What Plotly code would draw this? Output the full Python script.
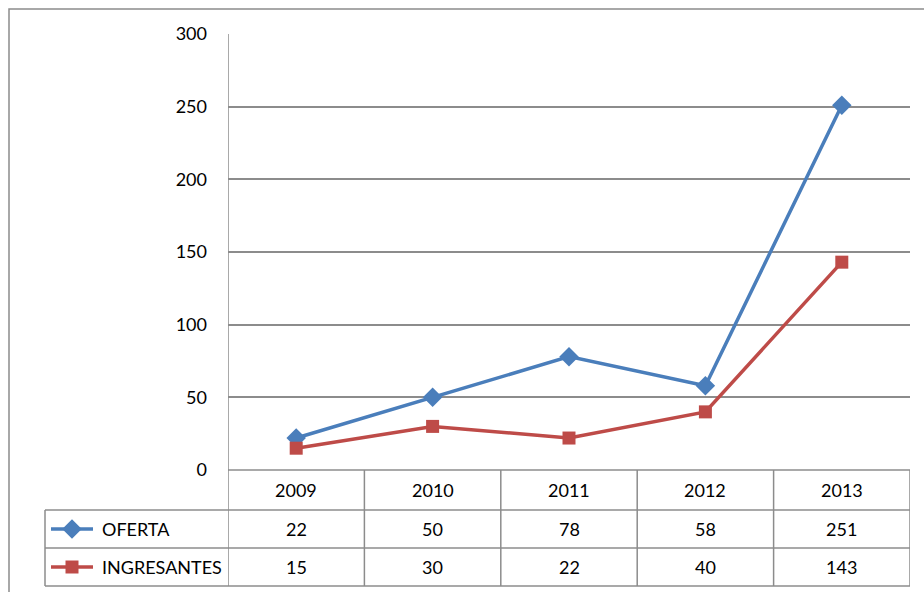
import plotly.graph_objects as go

years = ["2009", "2010", "2011", "2012", "2013"]
oferta = [22, 50, 78, 58, 251]
ingresantes = [15, 30, 22, 40, 143]
series_names = ["OFERTA", "INGRESANTES"]
y_ticks = [0, 50, 100, 150, 200, 250, 300]

W, H = 924, 592
BLUE = "#4A7EBB"
RED = "#BE4B48"
GRID = "#8C8C8C"
FONT = "Lato"
FS = 18

def py(p):
    return 1 - p / H

def px(p):
    return p / W

# plot area pixels
L, R, T, B = 228, 910, 34, 470
row_bounds = [470, 510, 548, 586]
tbl_left = 45

fig = go.Figure()
xs = list(range(len(years)))
fig.add_trace(go.Scatter(x=xs, y=oferta, mode="lines+markers", name=series_names[0],
                         line=dict(color=BLUE, width=3.5),
                         marker=dict(symbol="diamond", size=15, color=BLUE),
                         xaxis="x", yaxis="y", cliponaxis=False))
fig.add_trace(go.Scatter(x=xs, y=ingresantes, mode="lines+markers", name=series_names[1],
                         line=dict(color=RED, width=3.5),
                         marker=dict(symbol="square", size=13, color=RED),
                         xaxis="x", yaxis="y", cliponaxis=False))

# legend keys in data table (pixel overlay axes)
for name, color, sym, size, row in [(series_names[0], BLUE, "diamond", 15, 1),
                                    (series_names[1], RED, "square", 13, 2)]:
    yc = (row_bounds[row] + row_bounds[row + 1]) / 2
    fig.add_trace(go.Scatter(x=[51, 72, 93], y=[yc, yc, yc], mode="lines",
                             line=dict(color=color, width=3.5), xaxis="x2", yaxis="y2",
                             showlegend=False, hoverinfo="skip"))
    fig.add_trace(go.Scatter(x=[72], y=[yc], mode="markers",
                             marker=dict(symbol=sym, size=size, color=color), xaxis="x2", yaxis="y2",
                             showlegend=False, hoverinfo="skip"))

shapes = []
line_style = dict(color=GRID, width=1.5)
# outer border
shapes.append(dict(type="rect", xref="paper", yref="paper", x0=px(9), x1=px(940), y0=py(610), y1=py(9),
                   line=dict(color="#8C8C8C", width=1.5), layer="below"))
# table vertical lines at category boundaries
for i in range(len(years) + 1):
    top = T if i == 0 else row_bounds[0]
    shapes.append(dict(type="line", xref="x", yref="paper", x0=i - 0.5, x1=i - 0.5,
                       y0=py(top), y1=py(row_bounds[-1]), line=line_style, layer="below"))
# left column vertical line
shapes.append(dict(type="line", xref="paper", yref="paper", x0=px(tbl_left), x1=px(tbl_left),
                   y0=py(row_bounds[1]), y1=py(row_bounds[-1]), line=line_style, layer="below"))
# horizontal table lines
for j, rb in enumerate(row_bounds):
    x0 = L if j == 0 else tbl_left
    shapes.append(dict(type="line", xref="paper", yref="paper", x0=px(x0), x1=px(R),
                       y0=py(rb), y1=py(rb), line=line_style, layer="below"))

annotations = []
rows = [years, [str(v) for v in oferta], [str(v) for v in ingresantes]]
for r, vals in enumerate(rows):
    yc = (row_bounds[r] + row_bounds[r + 1]) / 2
    for i, v in enumerate(vals):
        annotations.append(dict(x=i, y=py(yc), xref="x", yref="paper", text=v, showarrow=False,
                                font=dict(family=FONT, size=FS, color="#000000"),
                                xanchor="center", yanchor="middle"))
for k, name in enumerate(series_names):
    yc = (row_bounds[k + 1] + row_bounds[k + 2]) / 2
    annotations.append(dict(x=px(100), y=py(yc), xref="paper", yref="paper", text=name, showarrow=False,
                            font=dict(family=FONT, size=FS, color="#000000"),
                            xanchor="left", yanchor="middle"))

fig.update_layout(
    template="none",
    width=W, height=H, margin=dict(l=0, r=0, t=0, b=0, pad=0), autosize=False,
    paper_bgcolor="white", plot_bgcolor="rgba(0,0,0,0)", showlegend=False,
    font=dict(family=FONT, size=FS, color="#000000"),
    xaxis=dict(domain=[px(L), px(R)], range=[-0.5, len(years) - 0.5], showgrid=False,
               showticklabels=False, zeroline=False, showline=False, ticks="", automargin=False),
    yaxis=dict(domain=[py(B), py(T)], range=[0, 300], tickvals=y_ticks, showgrid=True,
               gridcolor=GRID, gridwidth=1.5, zeroline=False, showline=False, ticks="",
               automargin=False,
               ticklabelstandoff=20, tickfont=dict(family=FONT, size=FS, color="#000000")),
    xaxis2=dict(domain=[0, 1], range=[0, W], visible=False, anchor="y2", automargin=False),
    yaxis2=dict(domain=[0, 1], range=[H, 0], visible=False, anchor="x2", automargin=False),
    shapes=shapes, annotations=annotations,
)
fig.write_html("out.html", config={"displayModeBar": False},
               post_script="document.body.style.margin='0';document.body.style.overflow='hidden';")
